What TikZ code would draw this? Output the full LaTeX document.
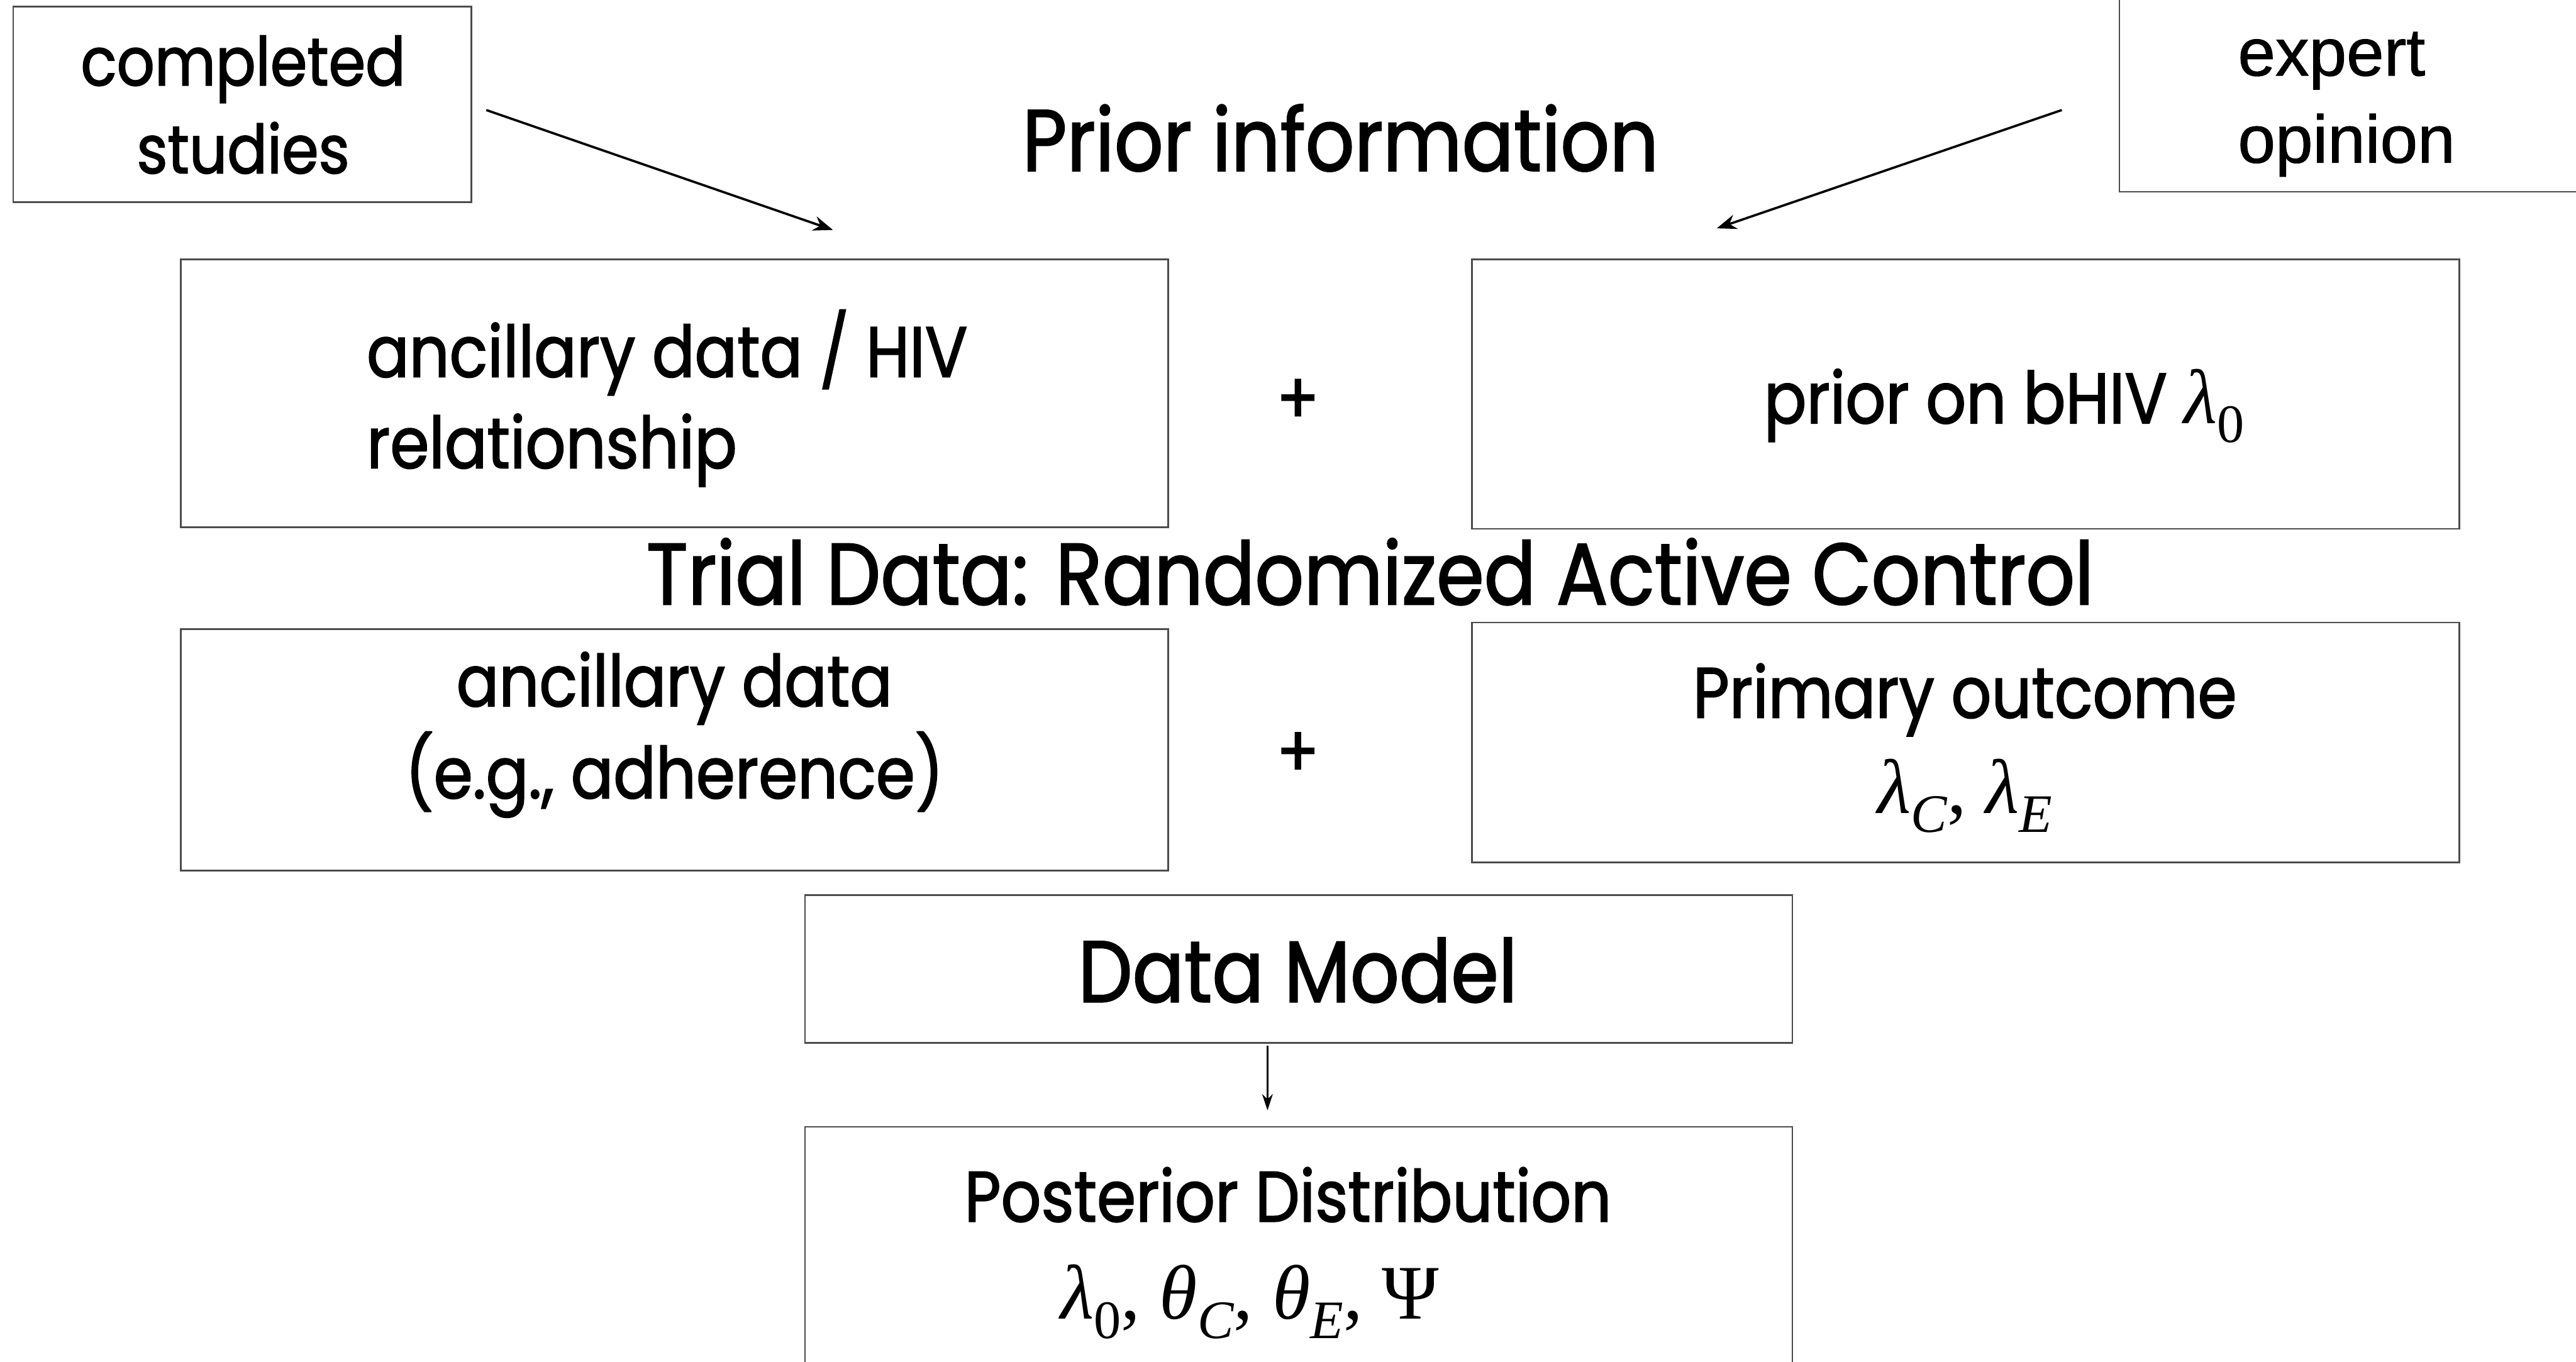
\documentclass[tikz,border=0pt]{standalone}
\usepackage{fontspec}
\setmainfont{Poppins}[FakeStretch=0.88,FakeBold=1.6]
\newfontfamily\helv{Liberation Sans}[FakeBold=1]
\newfontfamily\tms{Liberation Serif}
\newcommand\mvar[1]{{\tms\itshape #1}}
\newcommand\msub[1]{\raisebox{-0.25em}{\fontsize{33}{33}\selectfont\tms #1}}
\newcommand\mmath[1]{{\tms\fontsize{47}{47}\selectfont #1}}
\usetikzlibrary{arrows.meta}
\begin{document}
\begin{tikzpicture}[x=1pt,y=-1pt,
  box/.style={draw=black!70, line width=1pt, inner sep=0pt},
  body/.style={font=\fontsize{43.5}{55}\selectfont, inner sep=0pt, anchor=base},
  bodyw/.style={body, anchor=base west},
  narrow/.style={font=\fontsize{41}{55}\selectfont},
  expw/.style={font=\helv\fontsize{41}{53}\selectfont, inner sep=0pt, anchor=base west},
  title/.style={font=\fontsize{53}{60}\selectfont, inner sep=0pt, anchor=base},
  feed/.style={line width=1.4pt, -{Stealth[length=12pt,width=9pt]}},
  down/.style={line width=1pt, -{Stealth[length=10pt,width=6.5pt]}}]
\useasboundingbox (0,0) rectangle (1568,828.8);
\clip (0,0) rectangle (1568,828.8);

% top source boxes
\node[box, minimum width=279pt, minimum height=119pt] (cs) at (147.5,63.5) {};
\node[body, narrow] (cs1) at (148,52) {completed};
\node[body, narrow] (cs2) at (148,105.5) {studies};

\node[box, minimum width=320pt, minimum height=200pt] (eo) at (1450,16.7) {};
\node[expw] (eo1) at (1362,46) {expert};
\node[expw] (eo2) at (1362,99) {opinion};

\node[title] (prior) at (816,104) {Prior information};

\coordinate (a1s) at (296,67);
\coordinate (a1e) at (507,140);
\coordinate (a2s) at (1255,67);
\coordinate (a2e) at (1045,139);
\draw[feed] (a1s) -- (a1e);
\draw[feed] (a2s) -- (a2e);

% prior row
\node[box, minimum width=601pt, minimum height=163pt] (bA) at (410.5,239.5) {};
\node[bodyw] (bA1) at (223,229.5) {ancillary data / HIV};
\node[bodyw] (bA2) at (223,285) {relationship};
\node[body] (plus1) at (790,258) {+};
\node[box, minimum width=601pt, minimum height=164pt] (bB) at (1196.5,240) {};
\node[body] (bB1) at (1220,257.7) {prior on bHIV \mmath{\mvar{λ}\msub{0}}};

\node[title] (trial) at (834,368) {Trial Data: Randomized Active Control};

% trial row
\node[box, minimum width=601pt, minimum height=147pt] (bC) at (410.5,456.5) {};
\node[body] (bC1) at (410.5,430) {ancillary data};
\node[body] (bC2) at (410.5,486) {(e.g., adherence)};
\node[body] (plus2) at (790,473) {+};
\node[box, minimum width=601pt, minimum height=146pt] (bD) at (1196.5,452) {};
\node[body] (bD1) at (1196,437) {Primary outcome};
\node[body] (bD2) at (1196,495) {\mmath{\mvar{λ}\msub{\itshape C}, \mvar{λ}\msub{\itshape E}}};

% model and posterior
\node[box, minimum width=601pt, minimum height=90pt] (dm) at (790.5,590) {};
\node[title] (dm1) at (790,610) {Data Model};
\coordinate (dmout) at (771.5,636.5);
\coordinate (pin) at (771.5,676);
\draw[down] (dmout) -- (pin);
\node[box, minimum width=601pt, minimum height=200pt] (pd) at (790.5,786) {};
\node[body] (pd1) at (784,743.7) {Posterior Distribution};
\node[body] (pd2) at (760.7,803) {\mmath{\mvar{λ}\msub{0}, \mvar{θ}\msub{\itshape C}, \mvar{θ}\msub{\itshape E}, Ψ}};
\end{tikzpicture}
\end{document}
